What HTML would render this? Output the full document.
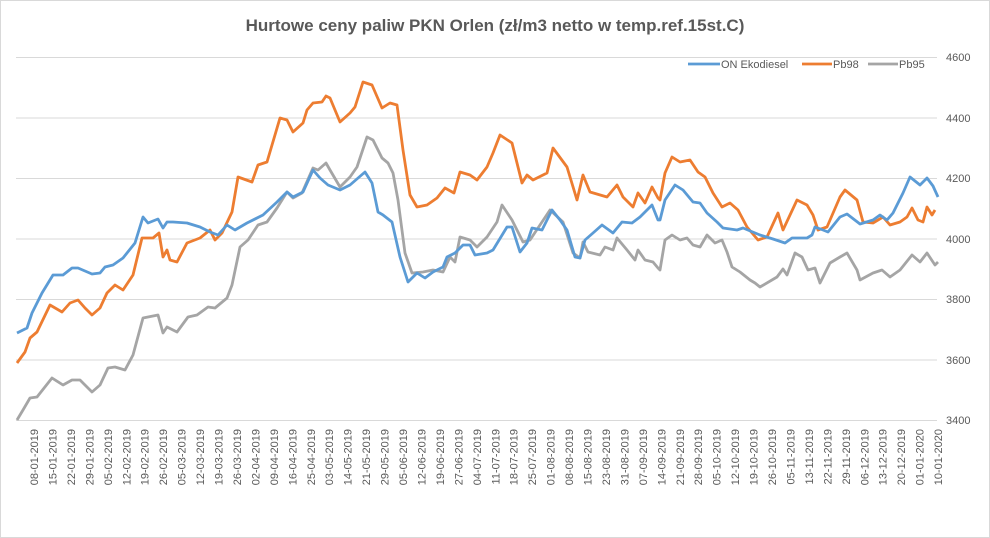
<!DOCTYPE html>
<html><head><meta charset="utf-8"><style>
html,body{margin:0;padding:0;background:#fff;}
svg{display:block;font-family:"Liberation Sans",sans-serif;}
</style></head><body>
<svg width="990" height="538" viewBox="0 0 990 538" xmlns="http://www.w3.org/2000/svg">
<rect x="0.5" y="0.5" width="989" height="537" fill="#fff" stroke="#d9d9d9"/>
<text x="495" y="31" text-anchor="middle" font-size="17" font-weight="bold" fill="#595959">Hurtowe ceny paliw PKN Orlen (zł/m3 netto w temp.ref.15st.C)</text>
<g stroke="#d9d9d9" stroke-width="1">
<line x1="16" y1="57.5" x2="937" y2="57.5"/>
<line x1="16" y1="118" x2="937" y2="118"/>
<line x1="16" y1="178.5" x2="937" y2="178.5"/>
<line x1="16" y1="239" x2="937" y2="239"/>
<line x1="16" y1="299.5" x2="937" y2="299.5"/>
<line x1="16" y1="360" x2="937" y2="360"/>
<line x1="16" y1="420.5" x2="937" y2="420.5"/>
</g>
<g font-size="11" fill="#595959">
<text x="946" y="61">4600</text><text x="946" y="122">4400</text><text x="946" y="182">4200</text><text x="946" y="243">4000</text><text x="946" y="303">3800</text><text x="946" y="364">3600</text><text x="946" y="424">3400</text>
</g>
<polyline fill="none" stroke="#a5a5a5" stroke-width="2.8" stroke-linejoin="round" points="17,420 23,410 30,398 37,397 52,378 63,385 72,380 80,380 92,392 100,385 108,368 115,367 125,370 133,355 143,318 158,315 163,333 167,327 177,332 188,317 197,315 208,307 215,308 227,298 232,285 240,247 248,240 258,225 267,222 277,208 287,192 293,198 302,193 313,168 318,170 326,163 330,170 340,187 350,177 357,167 367,137 373,140 382,158 388,163 393,173 398,200 405,253 412,273 423,272 433,270 443,272 450,257 455,262 460,237 470,240 477,247 487,237 497,222 502,205 512,220 518,232 523,242 530,240 550,210 563,222 573,253 580,258 583,242 588,252 600,255 605,247 613,250 617,238 627,250 635,260 638,250 645,260 653,262 658,268 660,270 665,240 672,235 680,240 687,238 693,245 700,247 707,235 715,243 722,240 727,252 732,267 740,272 750,280 755,283 760,287 777,277 783,269 787,275 795,253 802,257 808,270 815,268 820,283 830,263 840,257 847,253 857,270 860,280 873,273 882,270 890,277 900,270 912,255 920,262 927,253 935,265 938,262"/>
<polyline fill="none" stroke="#ed7d31" stroke-width="2.8" stroke-linejoin="round" points="17,363 25,352 30,338 37,332 50,305 62,312 70,303 78,300 85,308 92,315 100,308 107,293 115,285 123,290 133,275 142,238 153,238 159,233 163,257 167,250 170,260 177,262 187,243 200,238 210,230 215,240 222,233 232,212 238,177 252,182 258,165 267,162 280,118 287,120 293,132 303,123 307,110 313,103 322,102 326,96 330,98 340,122 350,113 355,107 363,82 372,85 382,108 390,103 397,105 403,150 410,195 417,207 427,205 437,198 445,188 454,193 460,172 470,175 477,180 487,167 493,153 500,135 512,143 522,183 527,175 533,180 547,173 553,148 567,167 577,200 583,175 590,192 607,197 617,185 623,197 633,207 638,193 645,203 652,187 658,198 660,200 665,173 672,157 680,162 690,160 698,172 705,177 713,193 722,207 730,203 738,210 747,227 758,240 767,237 778,213 783,230 797,200 807,205 813,215 818,230 827,227 840,197 845,190 857,200 863,222 873,223 883,217 890,225 900,222 907,217 912,208 918,220 923,222 927,207 932,215 935,210"/>
<polyline fill="none" stroke="#5b9bd5" stroke-width="2.8" stroke-linejoin="round" points="17,333 27,328 32,313 42,293 53,275 63,275 72,268 78,268 92,274 100,273 105,267 113,265 123,258 135,243 143,217 148,223 158,219 163,228 167,222 173,222 187,223 200,227 210,232 218,235 227,225 235,230 247,223 263,215 277,202 287,192 293,197 303,192 313,170 320,178 328,185 340,190 350,185 365,172 372,183 378,212 383,215 392,222 400,257 408,282 417,273 425,278 433,272 443,267 447,257 455,253 463,245 470,245 475,255 487,253 493,250 507,227 512,227 520,252 527,243 532,228 542,230 552,210 560,220 567,230 575,257 580,258 585,240 593,233 602,225 613,233 622,222 632,223 640,217 652,205 658,220 660,220 665,200 675,185 683,190 693,202 700,203 707,213 717,222 723,228 737,230 743,228 760,235 773,239 785,243 792,238 807,238 812,235 815,227 823,230 828,232 840,217 847,214 860,224 873,220 880,215 887,220 893,213 903,193 910,177 920,185 927,178 933,186 938,197"/>
<g font-size="11" fill="#595959">
<line x1="688" y1="64" x2="720" y2="64" stroke="#5b9bd5" stroke-width="2.8"/><text x="721" y="68">ON Ekodiesel</text>
<line x1="802" y1="64" x2="832" y2="64" stroke="#ed7d31" stroke-width="2.8"/><text x="833" y="68">Pb98</text>
<line x1="868" y1="64" x2="898" y2="64" stroke="#a5a5a5" stroke-width="2.8"/><text x="899" y="68">Pb95</text>
</g>
<g font-size="11" fill="#595959" text-anchor="end">
<text transform="translate(38,429) rotate(-90)">08-01-2019</text>
<text transform="translate(56.45,429) rotate(-90)">15-01-2019</text>
<text transform="translate(74.9,429) rotate(-90)">22-01-2019</text>
<text transform="translate(93.35,429) rotate(-90)">29-01-2019</text>
<text transform="translate(111.8,429) rotate(-90)">05-02-2019</text>
<text transform="translate(130.25,429) rotate(-90)">12-02-2019</text>
<text transform="translate(148.7,429) rotate(-90)">19-02-2019</text>
<text transform="translate(167.15,429) rotate(-90)">26-02-2019</text>
<text transform="translate(185.6,429) rotate(-90)">05-03-2019</text>
<text transform="translate(204.05,429) rotate(-90)">12-03-2019</text>
<text transform="translate(222.5,429) rotate(-90)">19-03-2019</text>
<text transform="translate(240.95,429) rotate(-90)">26-03-2019</text>
<text transform="translate(259.4,429) rotate(-90)">02-04-2019</text>
<text transform="translate(277.85,429) rotate(-90)">09-04-2019</text>
<text transform="translate(296.3,429) rotate(-90)">16-04-2019</text>
<text transform="translate(314.75,429) rotate(-90)">25-04-2019</text>
<text transform="translate(333.2,429) rotate(-90)">03-05-2019</text>
<text transform="translate(351.65,429) rotate(-90)">14-05-2019</text>
<text transform="translate(370.1,429) rotate(-90)">21-05-2019</text>
<text transform="translate(388.55,429) rotate(-90)">29-05-2019</text>
<text transform="translate(407,429) rotate(-90)">05-06-2019</text>
<text transform="translate(425.45,429) rotate(-90)">12-06-2019</text>
<text transform="translate(443.9,429) rotate(-90)">19-06-2019</text>
<text transform="translate(462.35,429) rotate(-90)">27-06-2019</text>
<text transform="translate(480.8,429) rotate(-90)">04-07-2019</text>
<text transform="translate(499.25,429) rotate(-90)">11-07-2019</text>
<text transform="translate(517.7,429) rotate(-90)">18-07-2019</text>
<text transform="translate(536.15,429) rotate(-90)">25-07-2019</text>
<text transform="translate(554.6,429) rotate(-90)">01-08-2019</text>
<text transform="translate(573.05,429) rotate(-90)">08-08-2019</text>
<text transform="translate(591.5,429) rotate(-90)">15-08-2019</text>
<text transform="translate(609.95,429) rotate(-90)">23-08-2019</text>
<text transform="translate(628.4,429) rotate(-90)">31-08-2019</text>
<text transform="translate(646.85,429) rotate(-90)">07-09-2019</text>
<text transform="translate(665.3,429) rotate(-90)">14-09-2019</text>
<text transform="translate(683.75,429) rotate(-90)">21-09-2019</text>
<text transform="translate(702.2,429) rotate(-90)">28-09-2019</text>
<text transform="translate(720.65,429) rotate(-90)">05-10-2019</text>
<text transform="translate(739.1,429) rotate(-90)">12-10-2019</text>
<text transform="translate(757.55,429) rotate(-90)">19-10-2019</text>
<text transform="translate(776,429) rotate(-90)">26-10-2019</text>
<text transform="translate(794.45,429) rotate(-90)">05-11-2019</text>
<text transform="translate(812.9,429) rotate(-90)">13-11-2019</text>
<text transform="translate(831.35,429) rotate(-90)">22-11-2019</text>
<text transform="translate(849.8,429) rotate(-90)">29-11-2019</text>
<text transform="translate(868.25,429) rotate(-90)">06-12-2019</text>
<text transform="translate(886.7,429) rotate(-90)">13-12-2019</text>
<text transform="translate(905.15,429) rotate(-90)">20-12-2019</text>
<text transform="translate(923.6,429) rotate(-90)">01-01-2020</text>
<text transform="translate(942.05,429) rotate(-90)">10-01-2020</text>
</g>
</svg>
</body></html>
